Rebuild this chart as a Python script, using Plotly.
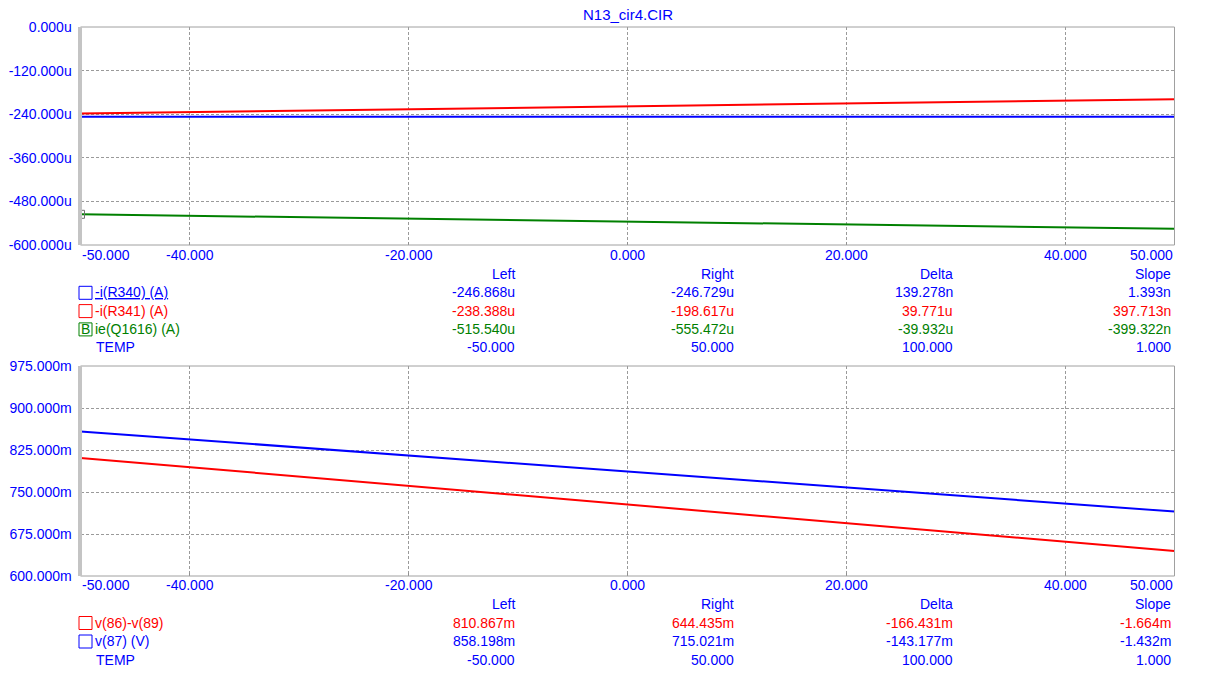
import plotly.graph_objects as go

W, H = 1207, 673
FONT = "Liberation Sans, Arial, sans-serif"
BLUE = "#0000FF"
RED = "#FF0000"
GREEN = "#008000"

# Sweep variable (TEMP) endpoints
temp = [-50.0, 50.0]

# Upper plot: currents in micro-amps
i_r340 = [-246.868, -246.729]
i_r341 = [-238.388, -198.617]
ie_q1616 = [-515.540, -555.472]

# Lower plot: voltages in milli-volts
v86_89 = [810.867, 644.435]
v87 = [858.198, 715.021]

x_ticks = [-50, -40, -20, 0, 20, 40, 50]
y1_ticks = [0, -120, -240, -360, -480, -600]
y2_ticks = [975, 900, 825, 750, 675, 600]

# Cursor tables (text columns)
top_rows = [
    ("-i(R340) (A)", "", BLUE, ["-246.868u", "-246.729u", "139.278n", "1.393n"]),
    ("-i(R341) (A)", "", RED, ["-238.388u", "-198.617u", "39.771u", "397.713n"]),
    ("ie(Q1616) (A)", "B", GREEN, ["-515.540u", "-555.472u", "-39.932u", "-399.322n"]),
    ("TEMP", None, BLUE, ["-50.000", "50.000", "100.000", "1.000"]),
]
bot_rows = [
    ("v(86)-v(89)", "", RED, ["810.867m", "644.435m", "-166.431m", "-1.664m"]),
    ("v(87) (V)", "", BLUE, ["858.198m", "715.021m", "-143.177m", "-1.432m"]),
    ("TEMP", None, BLUE, ["-50.000", "50.000", "100.000", "1.000"]),
]
headers = ["Left", "Right", "Delta", "Slope"]


def px(x):
    return x / W


def py(y):
    return 1 - y / H


X0, X1 = 80.5, 1174.5
TOP = (27, 245)
BOT = (366, 576)

fig = go.Figure()

fig.add_trace(go.Scatter(x=temp, y=i_r341, mode="lines", line=dict(color=RED, width=2),
                         xaxis="x", yaxis="y"))
fig.add_trace(go.Scatter(x=temp, y=i_r340, mode="lines", line=dict(color=BLUE, width=2),
                         xaxis="x", yaxis="y"))
fig.add_trace(go.Scatter(x=temp, y=ie_q1616, mode="lines", line=dict(color=GREEN, width=2),
                         xaxis="x", yaxis="y"))
fig.add_trace(go.Scatter(x=temp[:1], y=ie_q1616[:1], mode="markers",
                         marker=dict(symbol="square-open", size=8, color="#707070",
                                     line=dict(width=1)),
                         xaxis="x", yaxis="y"))
fig.add_trace(go.Scatter(x=temp, y=v87, mode="lines", line=dict(color=BLUE, width=2),
                         xaxis="x2", yaxis="y2"))
fig.add_trace(go.Scatter(x=temp, y=v86_89, mode="lines", line=dict(color=RED, width=2),
                         xaxis="x2", yaxis="y2"))

xaxis_common = dict(
    domain=[px(X0), px(X1)], range=[-50, 50], tickvals=x_ticks,
    showticklabels=False, ticks="inside", ticklen=3, tickcolor="#909090",
    showgrid=True, gridcolor="#9a9a9a", griddash="3px,2px", gridwidth=1,
    zeroline=False, showline=False, fixedrange=True, automargin=False,
)
yaxis_common = dict(
    tickfont=dict(family=FONT, size=14, color=BLUE), ticks="", ticklabelstandoff=3,
    showgrid=True, gridcolor="#9a9a9a", griddash="3px,2px", gridwidth=1,
    zeroline=False, showline=True, linecolor="#c4c4c4", linewidth=3, automargin=False,
)

fig.update_layout(
    width=W, height=H, margin=dict(l=0, r=0, t=0, b=0),
    paper_bgcolor="white", plot_bgcolor="white", showlegend=False,
    xaxis=dict(anchor="y", **xaxis_common),
    xaxis2=dict(anchor="y2", **xaxis_common),
    yaxis=dict(anchor="x", domain=[py(TOP[1]), py(TOP[0])], range=[-600, 0],
               tickvals=y1_ticks, ticktext=[f"{v:.3f}u" for v in y1_ticks], **yaxis_common),
    yaxis2=dict(anchor="x2", domain=[py(BOT[1]), py(BOT[0])], range=[600, 975],
                tickvals=y2_ticks, ticktext=[f"{v:.3f}m" for v in y2_ticks], **yaxis_common),
)

shapes = []
for xr, yr in (("x domain", "y domain"), ("x2 domain", "y2 domain")):
    shapes.append(dict(type="rect", xref=xr, yref=yr, x0=0, x1=1, y0=0, y1=1,
                       line=dict(color="#a0a0a0", width=1), layer="above"))
    shapes.append(dict(type="line", xref=xr, yref=yr, x0=0, x1=0, y0=0, y1=1,
                       line=dict(color="#c4c4c4", width=3), layer="above"))

ann = []
ann.append(dict(text="N13_cir4.CIR", x=px(628), y=py(14), xref="paper", yref="paper",
                showarrow=False, font=dict(family=FONT, size=15, color=BLUE),
                xanchor="center", yanchor="middle"))

# x tick labels below each plot, end labels kept inside the frame
for xa, ylab in (("x", 255), ("x2", 585)):
    for v in x_ticks:
        anchor = "left" if v == x_ticks[0] else ("right" if v == x_ticks[-1] else "center")
        shift = -1 if v == x_ticks[0] else 0
        ann.append(dict(text=f"{v:.3f}", x=v, xref=xa, y=py(ylab), yref="paper",
                        showarrow=False, xanchor=anchor, yanchor="middle",
                        font=dict(family=FONT, size=14, color=BLUE), xshift=shift))

col_right = [517, 736, 955, 1173]


def table(rows, y_head, step):
    for h, xr in zip(headers, col_right):
        ann.append(dict(text=h, x=px(xr), y=py(y_head), xref="paper", yref="paper",
                        showarrow=False, xanchor="right", yanchor="middle",
                        font=dict(family=FONT, size=14, color=BLUE)))
    for i, (name, box, color, vals) in enumerate(rows):
        yc = y_head + step * (i + 1)
        label = name
        if i == 0 and box is not None and rows is top_rows:
            label = f'<span style="text-decoration:underline">{name}</span>'
        ann.append(dict(text=label, x=px(93 if box is not None else 94), y=py(yc),
                        xref="paper", yref="paper", showarrow=False, xanchor="left",
                        yanchor="middle", font=dict(family=FONT, size=14, color=color)))
        if box is not None:
            shapes.append(dict(type="rect", xref="paper", yref="paper",
                               x0=px(79), x1=px(92), y0=py(yc + 7), y1=py(yc - 6),
                               line=dict(color=color, width=1)))
            if box:
                ann.append(dict(text=box, x=px(85.5), y=py(yc), xref="paper", yref="paper",
                                showarrow=False, xanchor="center", yanchor="middle",
                                font=dict(family=FONT, size=14, color=color)))
        for v, xr in zip(vals, col_right):
            ann.append(dict(text=v, x=px(xr), y=py(yc), xref="paper", yref="paper",
                            showarrow=False, xanchor="right", yanchor="middle",
                            font=dict(family=FONT, size=14, color=color)))


table(top_rows, 274, 18.3)
table(bot_rows, 604, 18.5)

fig.update_layout(shapes=shapes, annotations=ann)
fig.write_html("out.html")
